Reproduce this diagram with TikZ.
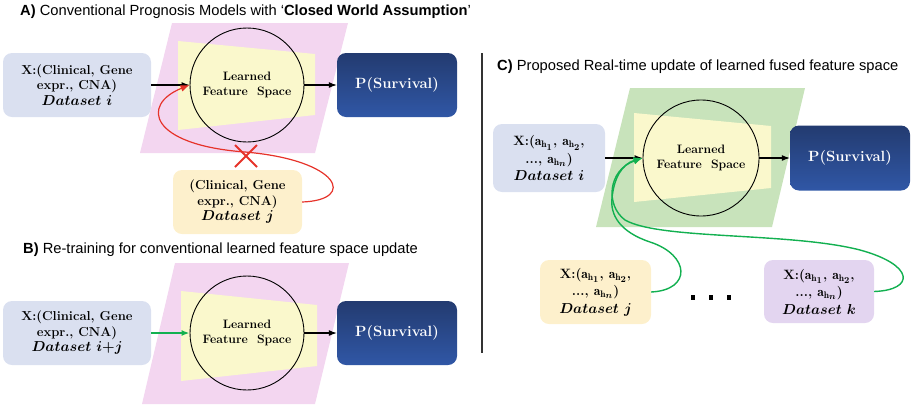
\documentclass[tikz,border=0pt]{standalone}
\usepackage{fontspec}
\newfontfamily\hv{Liberation Sans}
\usetikzlibrary{arrows.meta}
\definecolor{inblue}{HTML}{DAE0F0}
\definecolor{pinkbg}{HTML}{F3D6F0}
\definecolor{yelbg}{HTML}{FAF8CC}
\definecolor{yelbox}{HTML}{FDF0CC}
\definecolor{greenbg}{HTML}{C8E3BB}
\definecolor{purpbox}{HTML}{E3D5F0}
\definecolor{ptop}{HTML}{233B70}
\definecolor{pbot}{HTML}{3057A6}
\definecolor{redl}{HTML}{E6332A}
\definecolor{greenl}{HTML}{12B050}
\definecolor{divc}{HTML}{333333}
\tikzset{
  inbox/.style={rounded corners=9pt, fill=inblue, minimum width=148pt, minimum height=64pt, align=center, inner sep=2pt},
  jbox/.style={rounded corners=9pt, fill=yelbox, align=center, inner sep=2pt},
  kbox/.style={rounded corners=9pt, fill=purpbox, align=center, inner sep=2pt},
  pbox/.style={rounded corners=9pt, top color=ptop, bottom color=pbot, minimum width=120pt, minimum height=64pt, text=white, font=\fontsize{14.8}{16}\selectfont\bfseries},
  fcirc/.style={circle, draw, line width=0.9pt, minimum size=114pt, align=center, font=\fontsize{12.2}{15}\selectfont\bfseries},
  blk/.style={line width=1.1pt, -{Latex[length=8pt,width=6pt]}},
  redc/.style={draw=redl, line width=1.2pt, -{Latex[length=9pt,width=7pt]}},
  grc/.style={draw=greenl, line width=1.4pt, -{Latex[length=9pt,width=7pt]}},
  ttl/.style={anchor=west, font=\hv\fontsize{14.7}{16}\selectfont, inner sep=0pt},
  bt/.style={font=\fontsize{13}{15.5}\selectfont\bfseries},
  ct/.style={font=\fontsize{13.5}{17.5}\selectfont\bfseries},
}
\newcommand{\ds}[1]{{\fontsize{13.5}{15.5}\selectfont\boldmath$Dataset\ #1$}}
\newcommand{\ah}[1]{{\boldmath$\mathrm{a}_{\mathrm{h}_{\scriptstyle #1}}$}}
\begin{document}
\begin{tikzpicture}[x=1pt,y=-1pt]
\useasboundingbox (0,0) rectangle (912,405);
% ---------------- Panel A
\node[ttl] (tA) at (20,12) {\textbf{A)} Conventional Prognosis Models with ‘\textbf{Closed World Assumption}’};
\fill[pinkbg] (172,23) -- (348,23) -- (315,153) -- (140,153) -- cycle;
\fill[yelbg] (178,41) -- (315,54) -- (315,115) -- (178,130) -- cycle;
\node[fcirc] (cA) at (247,85) {Learned\\Feature~ Space};
\node[inbox, bt] (xA) at (77,85) {X:(Clinical, Gene\\expr., CNA)\\\ds{i}};
\node[pbox] (pA) at (397,85) {P(Survival)};
\node[jbox, bt, minimum width=129pt, minimum height=64pt] (jA) at (237.5,202) {(Clinical, Gene\\expr., CNA)\\\ds{j}};
\draw[blk] (xA.east) -- (cA.west);
\draw[blk] (cA.east) -- (pA.west);
\draw[redc] (jA.east) .. controls (357,200) and (340,160) .. (245,152) .. controls (150,145) and (140,105) .. (cA.west);
\coordinate (xc) at (246,156);
\draw[redl, line width=1.8pt] (xc) ++(-11,-11) -- ++(22,22) (xc) ++(-11,11) -- ++(22,-22);
% ---------------- Panel B
\node[ttl] (tB) at (23,250) {\textbf{B)} Re-training for conventional learned feature space update};
\fill[pinkbg] (175,263) -- (349,263) -- (315,404) -- (142,404) -- cycle;
\fill[yelbg] (181,291) -- (317,305) -- (317,366) -- (181,381) -- cycle;
\node[fcirc] (cB) at (247,333) {Learned\\Feature~ Space};
\node[inbox, bt] (xB) at (77,333) {X:(Clinical, Gene\\expr., CNA)\\\ds{i{+}j}};
\node[pbox] (pB) at (397,333) {P(Survival)};
\draw[blk, draw=greenl, line width=1.6pt] (xB.east) -- (cB.west);
\draw[blk] (cB.east) -- (pB.west);
% ---------------- divider
\coordinate (d1) at (482,53);
\coordinate (d2) at (482,353);
\draw[divc, line width=1.5pt] (d1) -- (d2);
% ---------------- Panel C
\node[ttl] (tC) at (497,67) {\textbf{C)} Proposed Real-time update of learned fused feature space};
\fill[greenbg] (630,88) -- (805,88) -- (772,227) -- (596,227) -- cycle;
\fill[yelbg] (634,113) -- (771,126) -- (771,188) -- (634,202) -- cycle;
\node[fcirc, minimum size=116pt] (cC) at (701,158) {Learned\\Feature~ Space};
\node[inbox, ct, minimum width=112pt, minimum height=68pt] (xC) at (549,158) {X:(\ah{1}, \ah{2},\\..., \ah{n})\\\ds{i}};
\node[pbox, minimum height=65pt] (pC) at (850,158) {P(Survival)};
\node[jbox, ct, minimum width=111pt, minimum height=64pt] (jC) at (595.5,292) {X:(\ah{1}, \ah{2},\\..., \ah{n})\\\ds{j}};
\node[kbox, ct, minimum width=110pt, minimum height=63pt] (kC) at (819,291.5) {X:(\ah{1}, \ah{2},\\..., \ah{n})\\\ds{k}};
\draw[blk] (xC.east) -- (cC.west);
\draw[blk] (cC.east) -- (pC.west);
\draw[grc] (kC.east) .. controls (915,290) and (915,265) .. (860,250) .. controls (790,232) and (660,240) .. (625,220) .. controls (605,205) and (608,170) .. (cC.west);
\draw[grc] (jC.east) .. controls (692,290) and (690,255) .. (650,242) .. controls (620,232) and (610,215) .. (612,198) .. controls (614,178) and (622,164) .. (cC.west);
\coordinate (dots) at (691,295);
\fill (dots) rectangle ++(4,5);
\fill (dots) ++(18,0) rectangle ++(4,5);
\fill (dots) ++(36,0) rectangle ++(4,5);
\end{tikzpicture}
\end{document}
